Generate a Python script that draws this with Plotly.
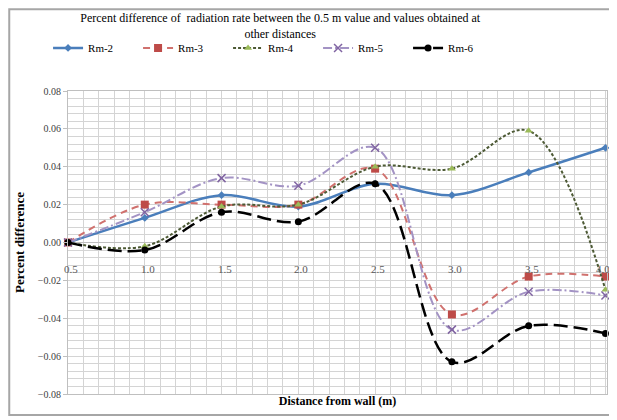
import plotly.graph_objects as go

distance = [0.5, 1.0, 1.5, 2.0, 2.5, 3.0, 3.5, 4.0]
x_tick_labels = ["0.5", "1.0", "1.5", "2.0", "2.5", "3.0", "3.5", "4.0"]

rm2 = [0.000, 0.013, 0.025, 0.019, 0.031, 0.025, 0.037, 0.050]
rm3 = [0.000, 0.020, 0.020, 0.020, 0.039, -0.038, -0.018, -0.018]
rm4 = [0.000, -0.002, 0.019, 0.020, 0.040, 0.039, 0.059, -0.025]
rm5 = [0.000, 0.016, 0.034, 0.030, 0.050, -0.046, -0.026, -0.028]
rm6 = [0.000, -0.004, 0.016, 0.011, 0.031, -0.063, -0.044, -0.048]

serif = "Liberation Serif"

fig = go.Figure()

series = [
    ("Rm-2", rm2, dict(color="#4A7EBB", width=2.5, dash="solid"), dict(symbol="diamond", size=6, color="#4A7EBB")),
    ("Rm-3", rm3, dict(color="#D0716E", width=2, dash="7px,5px"), dict(symbol="square", size=8, color="#BE4B48")),
    ("Rm-4", rm4, dict(color="#4D5A35", width=2, dash="3px,2px"), dict(symbol="triangle-up", size=7, color="#9BBB59")),
    ("Rm-5", rm5, dict(color="#A393C4", width=2, dash="9px,3px,2px,3px"), dict(symbol="x-thin", size=8, color="#8064A2", line=dict(width=1.5, color="#8064A2"))),
    ("Rm-6", rm6, dict(color="#000000", width=2.5, dash="14px,6px"), dict(symbol="circle", size=7, color="#000000")),
]

for name, ys, line, marker in series:
    fig.add_trace(go.Scatter(
        x=distance, y=ys, name=name, mode="lines+markers",
        line=dict(shape="spline", smoothing=1.0, **line),
        marker=marker, cliponaxis=False,
    ))

for i, (xv, lab) in enumerate(zip(distance, x_tick_labels)):
    fig.add_annotation(x=xv, y=0, xref="x", yref="y", text=lab, showarrow=False,
                       yshift=-26, xshift=3 if i < len(distance) - 1 else -2,
                       font=dict(family=serif, size=11, color="#595959"))

grid_c = "#D4D4D4"
fig.update_layout(
    width=609, height=412,
    margin=dict(l=60, r=10, t=83, b=26, autoexpand=False),
    paper_bgcolor="white", plot_bgcolor="white",
    title=dict(
        text="Percent difference of  radiation rate between the 0.5 m value and values obtained at<br>other distances",
        x=0.447, xanchor="center", y=0.966, yanchor="top",
        font=dict(family=serif, size=12, color="#000000"),
    ),
    legend=dict(orientation="h", x=-0.037, xanchor="left", y=1.142, yanchor="middle",
                font=dict(family=serif, size=11, color="#000000"),
                entrywidth=45, bgcolor="rgba(0,0,0,0)"),
    xaxis=dict(range=[0.5, 4.01], dtick=0.5, tick0=0.5, showticklabels=False,
               showgrid=True, gridcolor=grid_c, gridwidth=1,
               minor=dict(dtick=0.1, showgrid=True, gridcolor=grid_c, gridwidth=1),
               showline=True, linecolor="#BFBFBF", mirror=True, zeroline=False,
               title=dict(text="<b>Distance from wall (m)</b>", standoff=2,
                          font=dict(family=serif, size=12, color="#000000"))),
    yaxis=dict(range=[-0.08, 0.08], dtick=0.02, tickformat=".2f",
               showgrid=True, gridcolor=grid_c, gridwidth=1,
               minor=dict(dtick=0.004, showgrid=True, gridcolor=grid_c, gridwidth=1),
               showline=True, linecolor="#BFBFBF", mirror=True,
               zeroline=True, zerolinecolor="#BFBFBF", zerolinewidth=1,
               ticks="outside", ticklen=4, tickcolor="#BFBFBF",
               tickfont=dict(family=serif, size=10, color="#404040"),
               title=dict(text="<b>Percent difference</b>", standoff=10,
                          font=dict(family=serif, size=13, color="#000000"))),
)

fig.add_shape(type="rect", xref="paper", yref="paper",
              x0=-0.109, x1=1.1, y0=-0.069, y1=1.27,
              line=dict(color="#A6A6A6", width=2))

fig.write_html("out.html")
